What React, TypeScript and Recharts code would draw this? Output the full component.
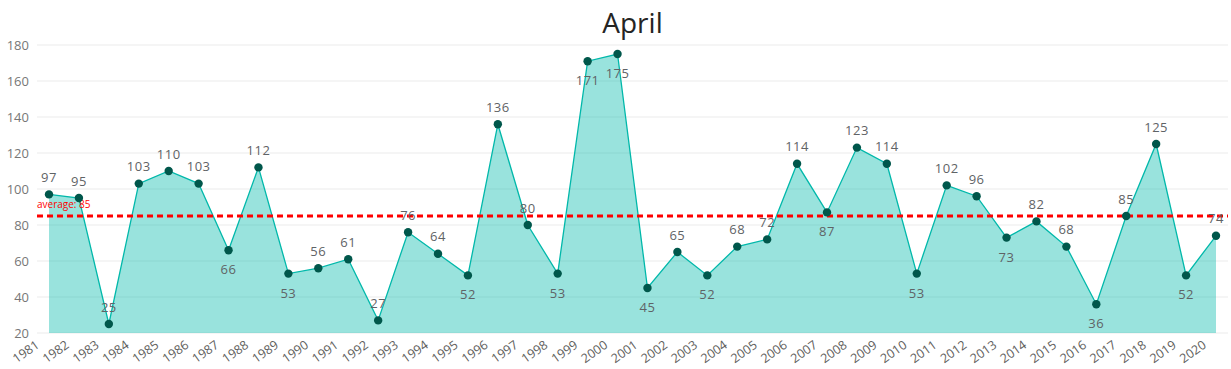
import React from 'react';
import { AreaChart, Area, XAxis, YAxis, CartesianGrid, ReferenceLine } from 'recharts';

const years = [
  '1981', '1982', '1983', '1984', '1985', '1986', '1987', '1988', '1989', '1990',
  '1991', '1992', '1993', '1994', '1995', '1996', '1997', '1998', '1999', '2000',
  '2001', '2002', '2003', '2004', '2005', '2006', '2007', '2008', '2009', '2010',
  '2011', '2012', '2013', '2014', '2015', '2016', '2017', '2018', '2019', '2020',
];
const values = [
  97, 95, 25, 103, 110, 103, 66, 112, 53, 56,
  61, 27, 76, 64, 52, 136, 80, 53, 171, 175,
  45, 65, 52, 68, 72, 114, 87, 123, 114, 53,
  102, 96, 73, 82, 68, 36, 85, 125, 52, 74,
];
const yTicks = [20, 40, 60, 80, 100, 120, 140, 160, 180];
const AVERAGE = 85;
const TITLE = 'April';
const AVERAGE_LABEL = `average: ${AVERAGE}`;

const data = years.map((year, i) => ({ year, value: values[i] }));

const WIDTH = 1231;
const HEIGHT = 369;
const MARGIN = { top: 45, right: 3, bottom: 0, left: 0 };
const X_AXIS_HEIGHT = 36;
const Y_AXIS_WIDTH = 37;
const PLOT_TOP = MARGIN.top;
const PLOT_BOTTOM = HEIGHT - MARGIN.bottom - X_AXIS_HEIGHT;

const FONT = '"Open Sans", "DejaVu Sans", sans-serif';
const TEAL = '#01B8AA';
const DOT = '#00574B';
const LABEL = '#5f6366';

const renderDot = (props: any) => {
  const { cx, cy, index } = props;
  if (cx == null || cy == null) return <g key={`d-${index}`} />;
  const v = values[index];
  const prev = index > 0 ? values[index - 1] : Infinity;
  const next = index < values.length - 1 ? values[index + 1] : Infinity;
  const isMin = v < prev && v < next;
  const below = (isMin && cy + 24 < PLOT_BOTTOM) || cy - 24 < PLOT_TOP;
  return (
    <g key={`d-${index}`}>
      <circle cx={cx} cy={cy} r={4.2} fill={DOT} stroke="none" />
      <text
        x={cx}
        y={below ? cy + 24 : cy - 12.5}
        textAnchor="middle"
        fontSize={13}
        fontFamily={FONT}
        fill={LABEL}
        letterSpacing={0.5}
      >
        {v}
      </text>
    </g>
  );
};

const XTick = (props: any) => {
  const { x, y, payload } = props;
  const ax = x - 9;
  const ay = y + 14;
  return (
    <text
      x={ax}
      y={ay}
      transform={`rotate(-35 ${ax} ${ay})`}
      textAnchor="end"
      fontSize={12.5}
      fontFamily={FONT}
      fill="#605E5C"
    >
      {payload.value}
    </text>
  );
};

const AvgLabel = (props: any) => {
  const { viewBox } = props;
  if (!viewBox) return null;
  return (
    <text x={viewBox.x} y={viewBox.y - 8} fontSize={10} fontFamily={FONT} fill="#FF0000">
      {AVERAGE_LABEL}
    </text>
  );
};

const layer: React.CSSProperties = { position: 'absolute', left: 0, top: 0 };

export default function App() {
  return (
    <div style={{ position: 'absolute', left: 0, top: 0, width: WIDTH, height: HEIGHT, background: '#fff' }}>
      <div
        style={{
          position: 'absolute',
          left: 37,
          width: 1191,
          top: 4,
          textAlign: 'center',
          fontFamily: FONT,
          fontSize: 28,
          color: '#252423',
          lineHeight: '36px',
        }}
      >
        {TITLE}
      </div>
      <div style={layer}>
        <AreaChart width={WIDTH} height={HEIGHT} data={data} margin={MARGIN}>
          <CartesianGrid vertical={false} stroke="#ebebeb" />
          <XAxis
            dataKey="year"
            interval={0}
            height={X_AXIS_HEIGHT}
            padding={{ left: 12, right: 12 }}
            axisLine={false}
            tickLine={false}
            tickSize={0}
            tickMargin={0}
            tick={<XTick />}
          />
          <YAxis
            width={Y_AXIS_WIDTH}
            domain={[20, 180]}
            ticks={yTicks}
            axisLine={false}
            tickLine={false}
            tickSize={0}
            tickMargin={8}
            tick={{ fontSize: 13, fontFamily: FONT, fill: '#777' }}
          />
          <Area
            type="linear"
            dataKey="value"
            stroke={TEAL}
            strokeWidth={1.3}
            fill={TEAL}
            fillOpacity={0.4}
            dot={false}
            activeDot={false}
            isAnimationActive={false}
          />
          <ReferenceLine
            y={AVERAGE}
            stroke="#FF0000"
            strokeWidth={3}
            strokeDasharray="6 4"
            label={<AvgLabel />}
          />
        </AreaChart>
      </div>
      <div style={layer}>
        <AreaChart width={WIDTH} height={HEIGHT} data={data} margin={MARGIN}>
          <XAxis
            dataKey="year"
            interval={0}
            height={X_AXIS_HEIGHT}
            padding={{ left: 12, right: 12 }}
            axisLine={false}
            tickLine={false}
            tick={false}
          />
          <YAxis
            width={Y_AXIS_WIDTH}
            domain={[20, 180]}
            ticks={yTicks}
            axisLine={false}
            tickLine={false}
            tick={false}
          />
          <Area
            type="linear"
            dataKey="value"
            stroke="none"
            fill="none"
            dot={renderDot}
            activeDot={false}
            isAnimationActive={false}
          />
        </AreaChart>
      </div>
    </div>
  );
}
